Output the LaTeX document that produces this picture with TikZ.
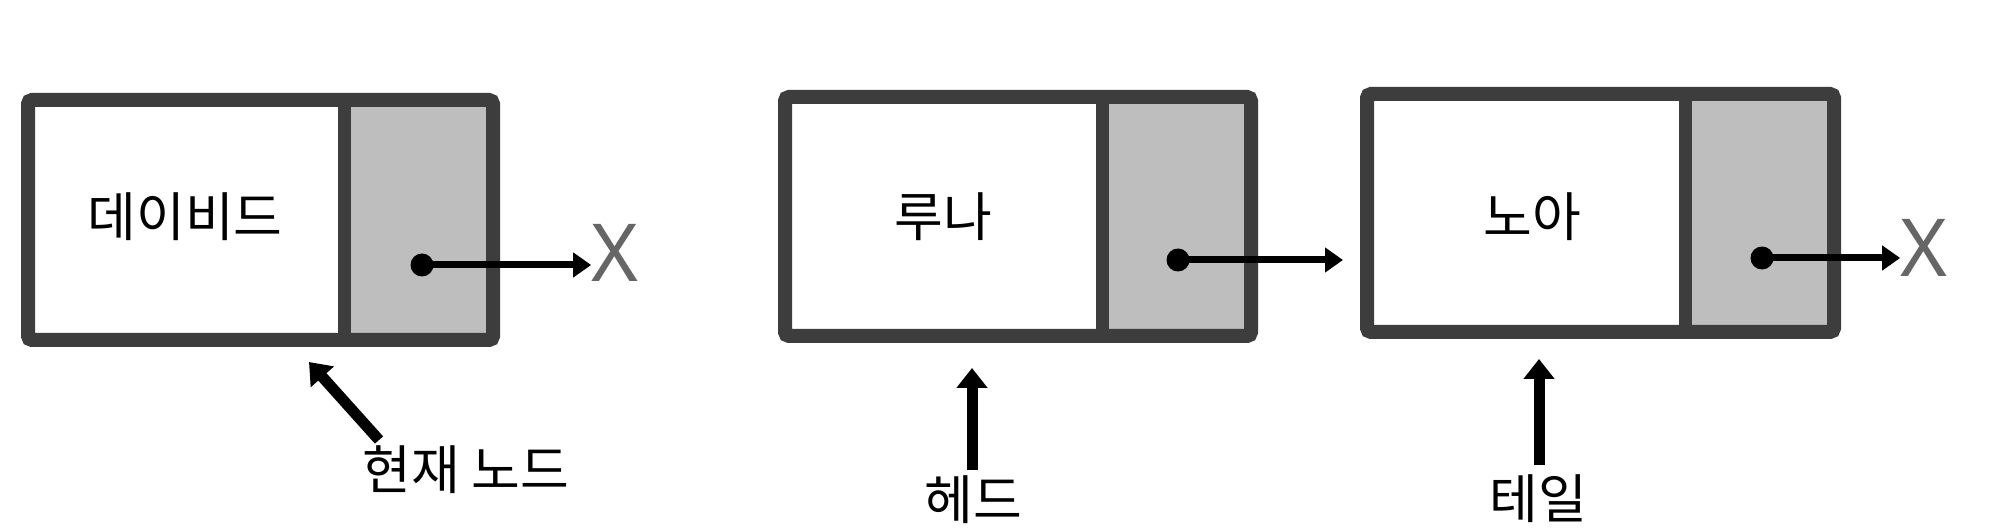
\documentclass[tikz,border=0pt]{standalone}
\usepackage{fontspec}
\newfontfamily\kofont{Noto Sans CJK KR}
\newfontfamily\xfont{Noto Sans}
\usetikzlibrary{arrows.meta}
\definecolor{framecol}{HTML}{3D3D3D}
\definecolor{cellgray}{HTML}{BEBEBE}
\definecolor{xgray}{HTML}{666666}
\begin{document}
\begin{tikzpicture}[x=0.5pt,y=-0.5pt,
 frameline/.style={draw=framecol,line width=7pt,rounded corners=2pt},
 divline/.style={draw=framecol,line width=6.5pt},
 ptrdot/.style={circle,fill=black,inner sep=0pt,minimum size=11.5pt},
 ptrarrow/.style={line width=3.5pt,-{Triangle[length=9pt,width=12pt]}},
 lblarrow/.style={line width=5.5pt,-{Triangle[length=10pt,width=15pt]}},
 ko/.style={font=\kofont\fontsize{26.5pt}{30pt}\selectfont,inner sep=0pt},
 nullx/.style={font=\xfont\fontsize{40pt}{44pt}\selectfont,text=xgray,inner sep=0pt}]
\useasboundingbox[fill=white] (0,0) rectangle (2016,528);

% box 1
\fill[cellgray] (344,100) rectangle (493,340);
\draw[frameline] (28,100) rectangle (493,340);
\draw[divline] (344,100) -- (344,340);
% box 2
\fill[cellgray] (1102,97) rectangle (1251,336);
\draw[frameline] (785,97) rectangle (1251,336);
\draw[divline] (1102,97) -- (1102,336);
% box 3
\fill[cellgray] (1685,94) rectangle (1834,332);
\draw[frameline] (1367,94) rectangle (1834,332);
\draw[divline] (1685,94) -- (1685,332);

% texts
\node[ko] (t1) at (185,217) {데이비드};
\node[ko] (t2) at (943,217) {루나};
\node[ko] (t3) at (1532,217) {노아};

% pointers
\node[ptrdot] (d1) at (422,265) {};
\node[ptrdot] (d2) at (1178,260) {};
\node[ptrdot] (d3) at (1762,258) {};
\node[nullx] (x1) at (615,253) {X};
\node[nullx] (x3) at (1924,248) {X};
\coordinate (b3in) at (1343,260);
\draw[ptrarrow] (d1.center) -- (d1 -| x1.west);
\draw[ptrarrow] (d2.center) -- (b3in);
\draw[ptrarrow] (d3.center) -- (d3 -| x3.west);

% labels
\node[ko] (l1) at (466,470) {현재 노드};
\node[ko] (l2) at (973,500) {헤드};
\node[ko] (l3) at (1538,499) {테일};
\coordinate (p1) at (309,362);
\coordinate (p2) at (972,368);
\coordinate (p3) at (1539,359);
\draw[lblarrow] (379,440) -- (p1);
\draw[lblarrow] (972,470) -- (p2);
\draw[lblarrow] (1539,465) -- (p3);
\end{tikzpicture}
\end{document}
